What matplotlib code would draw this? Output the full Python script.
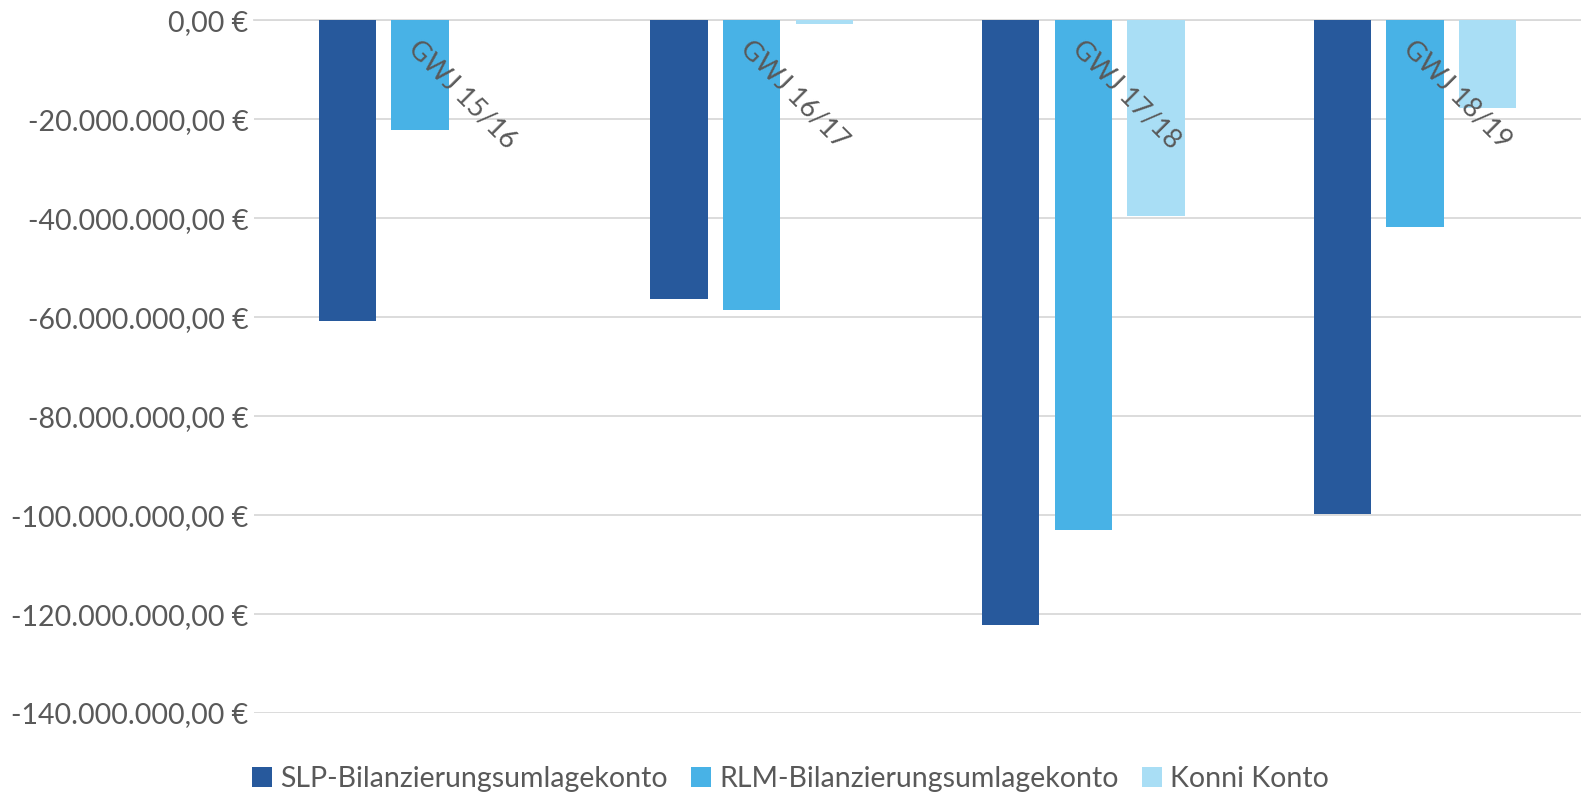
#!/usr/bin/env python3

import numpy as np
import matplotlib
matplotlib.use("Agg")
import matplotlib.pyplot as plt
from matplotlib.ticker import FuncFormatter, MultipleLocator


CATEGORIES = ["GWJ 15/16", "GWJ 16/17", "GWJ 17/18", "GWJ 18/19"]
SERIES_NAMES = [
    "SLP-Bilanzierungsumlagekonto",
    "RLM-Bilanzierungsumlagekonto",
    "Konni Konto",
]

# values in EUR
SLP = [-60.7e6, -56.4e6, -122.3e6, -99.7e6]
RLM = [-22.1e6, -58.5e6, -103.1e6, -41.7e6]
KONNI = [0.0, -0.8e6, -39.5e6, -17.8e6]

COLORS = ["#27599C", "#48B2E6", "#A9DEF5"]
TEXT_COLOR = "#595959"
GRID_COLOR = "#D9D9D9"


def euro_format(v, pos=None):
    s = f"{v:,.2f}".replace(",", "X").replace(".", ",").replace("X", ".")
    return f"{s} €"


def main():
    plt.rcParams["font.family"] = ["Lato", "DejaVu Sans"]

    fig = plt.figure(figsize=(15.81, 7.92), dpi=100)
    ax = fig.add_axes([0.1607, 0.0997, 0.8393, 0.8748])

    x = np.arange(len(CATEGORIES))
    width = 0.173
    step = 0.219

    for i, (vals, name) in enumerate(zip([SLP, RLM, KONNI], SERIES_NAMES)):
        ax.bar(x + (i - 1) * step, vals, width, color=COLORS[i], label=name, zorder=3)

    ax.set_xlim(-0.5, len(CATEGORIES) - 0.5)
    ax.set_ylim(-140e6, 0)
    ax.yaxis.set_major_locator(MultipleLocator(20e6))
    ax.yaxis.set_major_formatter(FuncFormatter(euro_format))
    ax.grid(axis="y", color=GRID_COLOR, linewidth=1.3, zorder=0)
    ax.set_axisbelow(True)

    for side in ["top", "right", "bottom", "left"]:
        ax.spines[side].set_visible(False)
    ax.axhline(0, color=GRID_COLOR, linewidth=1.3, zorder=2, clip_on=False)

    ax.set_xticks([])
    ax.tick_params(axis="y", length=0, pad=4, labelsize=20.5, labelcolor=TEXT_COLOR)

    for xi, label in zip(x, CATEGORIES):
        ax.annotate(
            label,
            xy=(xi, 0),
            xytext=(1, -11),
            textcoords="offset points",
            rotation=-45,
            rotation_mode="anchor",
            ha="left",
            va="top",
            fontsize=19.5,
            color=TEXT_COLOR,
            zorder=5,
        )

    fig.legend(
        loc="lower center",
        bbox_to_anchor=(0.5, -0.032),
        ncol=3,
        frameon=False,
        fontsize=20.5,
        labelcolor=TEXT_COLOR,
        handlelength=0.7,
        handleheight=0.7,
        handletextpad=0.3,
        columnspacing=0.8,
    )

    fig.savefig("out.png", dpi=100)
    plt.close(fig)


if __name__ == "__main__":
    main()
